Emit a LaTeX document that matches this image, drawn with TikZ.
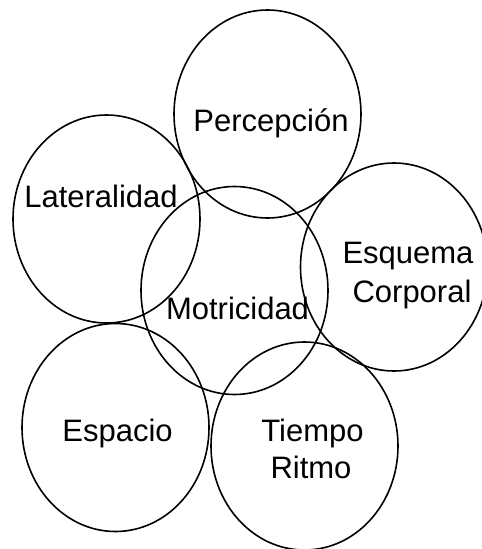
\documentclass[tikz,border=0pt]{standalone}
\usepackage{fontspec}
\setmainfont{Liberation Sans}
\usetikzlibrary{shapes.geometric}
\begin{document}
\begin{tikzpicture}[x=1pt,y=-1pt,
  circ/.style={draw=black, line width=1.6pt, ellipse, inner sep=0pt, outer sep=0pt, minimum width=187pt, minimum height=208pt},
  lbl/.style={anchor=base, inner sep=0pt, font=\fontsize{31}{36}\selectfont}]
\useasboundingbox (0,0) rectangle (482,549);
\node[circ] (perc) at (267.5,114) {};
\node[circ] (lat) at (106.5,219) {};
\node[circ] (esq) at (394,267) {};
\node[circ] (mot) at (234.5,290.5) {};
\node[circ] (esp) at (115.5,427.5) {};
\node[circ] (tie) at (304.5,446) {};
\node[lbl] (tperc) at (271,131) {Percepción};
\node[lbl] (tlat) at (101,207) {Lateralidad};
\node[lbl] (tesq) at (408,263) {Esquema};
\node[lbl] (tcorp) at (412,302) {Corporal};
\node[lbl] (tmot) at (237.5,319) {Motricidad};
\node[lbl] (tesp) at (117.5,441) {Espacio};
\node[lbl] (ttie) at (312.5,441) {Tiempo};
\node[lbl] (trit) at (311,478) {Ritmo};
\end{tikzpicture}
\end{document}
